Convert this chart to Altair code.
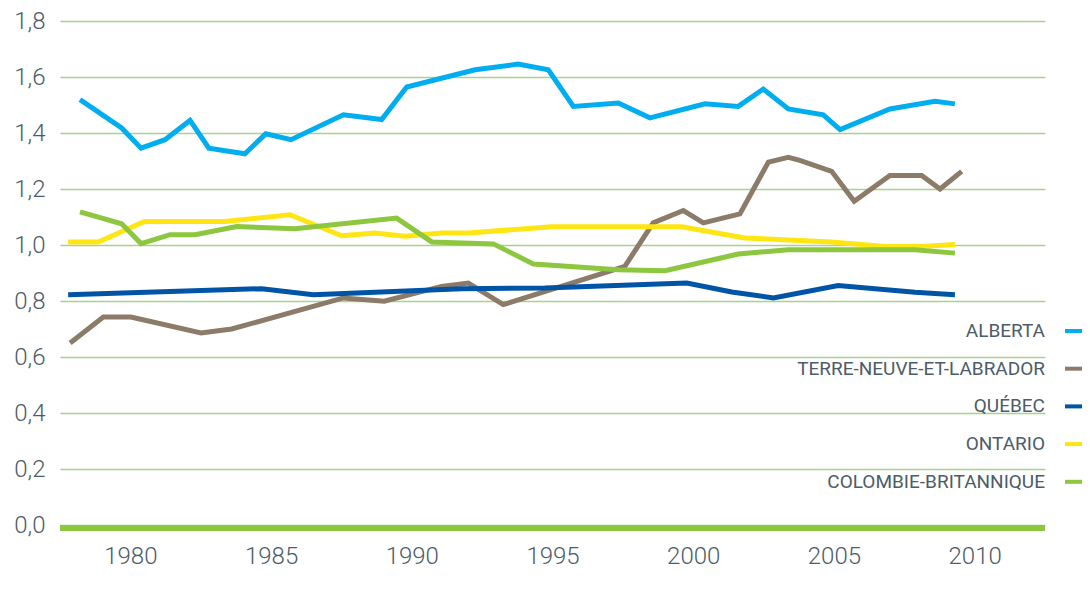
import altair as alt
import pandas as pd

series_order = ["ALBERTA", "TERRE-NEUVE-ET-LABRADOR", "QUÉBEC", "ONTARIO", "COLOMBIE-BRITANNIQUE"]
series_colors = ["#00aeef", "#8c7b69", "#0054a6", "#ffe512", "#8dc63f"]

alberta_x = [1978.21, 1979.69, 1980.38, 1981.23, 1982.12, 1982.79, 1984.07, 1984.81, 1985.71, 1987.57,
             1988.93, 1989.82, 1992.25, 1993.78, 1994.85, 1995.74, 1997.34, 1998.46, 2000.42, 2001.60,
             2002.49, 2003.38, 2004.62, 2005.22, 2006.99, 2008.59, 2009.30]
alberta_y = [1.519, 1.418, 1.346, 1.376, 1.445, 1.346, 1.326, 1.397, 1.376, 1.465,
             1.448, 1.564, 1.626, 1.646, 1.626, 1.495, 1.507, 1.454, 1.504, 1.495,
             1.557, 1.486, 1.465, 1.412, 1.486, 1.513, 1.504]

tnl_x = [1977.86, 1979.04, 1980.02, 1982.51, 1983.60, 1987.57, 1989.02, 1991.06, 1992.01, 1993.25,
         1997.57, 1998.58, 1999.65, 2000.36, 2001.66, 2002.67, 2003.38, 2003.79, 2004.92, 2005.72,
         2006.99, 2008.12, 2008.77, 2009.54]
tnl_y = [0.650, 0.743, 0.743, 0.686, 0.700, 0.811, 0.799, 0.852, 0.864, 0.787,
         0.924, 1.079, 1.123, 1.079, 1.111, 1.296, 1.313, 1.302, 1.263, 1.156,
         1.248, 1.248, 1.200, 1.263]

quebec_x = [1977.79, 1984.67, 1986.50, 1991.77, 1994.73, 1999.77, 2001.37, 2002.85, 2005.15, 2007.88, 2009.30]
quebec_y = [0.822, 0.844, 0.822, 0.844, 0.846, 0.864, 0.832, 0.811, 0.855, 0.831, 0.822]

ontario_x = [1977.79, 1978.86, 1980.50, 1983.36, 1985.67, 1987.51, 1988.69, 1989.76, 1991.06, 1992.01,
             1994.97, 1999.59, 2001.84, 2004.92, 2006.81, 2008.12, 2009.30]
ontario_y = [1.011, 1.011, 1.084, 1.084, 1.108, 1.033, 1.043, 1.031, 1.043, 1.043,
             1.065, 1.065, 1.025, 1.011, 0.995, 0.995, 1.002]

cb_x = [1978.21, 1979.69, 1980.38, 1981.41, 1982.30, 1983.78, 1985.85, 1989.46, 1990.71, 1992.90,
        1994.32, 1997.34, 1999.00, 2001.60, 2003.38, 2007.88, 2009.30]
cb_y = [1.118, 1.076, 1.005, 1.037, 1.037, 1.066, 1.058, 1.096, 1.011, 1.004,
        0.932, 0.912, 0.908, 0.968, 0.983, 0.983, 0.971]

x_ticks = [1980, 1985, 1990, 1995, 2000, 2005, 2010]
y_ticks = [0.0, 0.2, 0.4, 0.6, 0.8, 1.0, 1.2, 1.4, 1.6, 1.8]

rows = []
for name, xs, ys in [
    ("ALBERTA", alberta_x, alberta_y),
    ("TERRE-NEUVE-ET-LABRADOR", tnl_x, tnl_y),
    ("QUÉBEC", quebec_x, quebec_y),
    ("ONTARIO", ontario_x, ontario_y),
    ("COLOMBIE-BRITANNIQUE", cb_x, cb_y),
]:
    for i, (xv, yv) in enumerate(zip(xs, ys)):
        rows.append({"serie": name, "annee": xv, "valeur": yv, "ordre": i})
df = pd.DataFrame(rows)

FONT = "Roboto"
TXT = "#4d5c68"

x_enc = alt.X("annee:Q", scale=alt.Scale(domain=[1977.5, 2012.5], nice=False, zero=False),
              axis=alt.Axis(values=x_ticks, format="d", grid=False, domain=False, ticks=False,
                            labelFontSize=24, labelFontWeight=300, labelPadding=19,
                            labelColor=TXT, labelFont=FONT, title=None))
y_enc = alt.Y("valeur:Q", scale=alt.Scale(domain=[0, 1.8], nice=False),
              axis=alt.Axis(values=y_ticks, grid=True, gridColor="#a9d18e", gridWidth=1.6,
                            domain=False, ticks=False, labelFontSize=24, labelFontWeight=300,
                            labelPadding=15, labelColor=TXT, labelFont=FONT,
                            labelExpr="replace(format(datum.value, '.1f'), '.', ',')",
                            title=None))

lines = alt.Chart(df).mark_line(strokeWidth=5, strokeJoin="miter", strokeCap="butt").encode(
    x=x_enc,
    y=y_enc,
    order="ordre:Q",
    color=alt.Color("serie:N",
                    scale=alt.Scale(domain=series_order, range=series_colors),
                    sort=series_order,
                    legend=alt.Legend(orient="none", legendX=1003, legendY=294, title=None,
                                      symbolType="stroke", symbolStrokeWidth=4, symbolSize=784,
                                      labelAlign="right", labelOffset={"expr": "-50"},
                                      labelFontSize=19,
                                      labelFont=FONT, labelColor=TXT, labelLimit=0,
                                      rowPadding=11.7)),
)

baseline = alt.Chart(pd.DataFrame({"v": [0.0]})).mark_rule(
    color="#8dc63f", strokeWidth=6, yOffset=3
).encode(
    y=alt.Y("v:Q", scale=alt.Scale(domain=[0, 1.8], nice=False))
)

chart = alt.layer(lines, baseline).properties(
    width=985, height=504,
    padding={"left": 52, "top": 13, "right": 37, "bottom": 60},
    autosize=alt.AutoSizeParams(type="none"),
).configure_view(stroke=None)

chart.save("out.html", embed_options={"renderer": "svg", "actions": False})
